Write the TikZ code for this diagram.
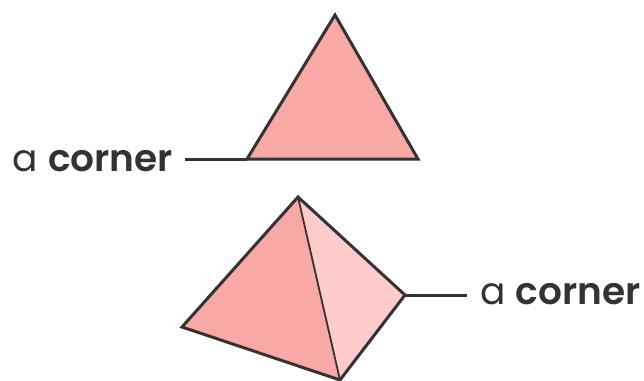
\documentclass[tikz,border=0pt]{standalone}
\usepackage{fontspec}
\setmainfont{Poppins}[BoldFont={Poppins SemiBold}]
\definecolor{ink}{HTML}{333333}
\definecolor{darkface}{HTML}{F9A9A5}
\definecolor{lightface}{HTML}{FDCCCA}
\tikzset{
 face/.style={draw=ink,line width=3pt,line join=miter},
 lead/.style={draw=ink,line width=3pt},
 lab/.style={text=ink,font=\fontsize{37.5}{40}\selectfont,inner sep=0pt,anchor=base west}
}
\begin{document}
\begin{tikzpicture}[x=1pt,y=-1pt]
\useasboundingbox (0,0) rectangle (644,380);
\coordinate (t1) at (335,15);
\coordinate (t2) at (247,159);
\coordinate (t3) at (418,159);
\coordinate (p1) at (298,197);
\coordinate (p2) at (182,327);
\coordinate (p3) at (340,380);
\coordinate (p4) at (405,295);
\coordinate (e1) at (185,159);
\coordinate (e2) at (467,295);
\fill[darkface] (p1)--(p2)--(p3)--cycle;
\fill[lightface] (p1)--(p3)--(p4)--cycle;
\path[fill=darkface] (t1)--(t2)--(t3)--cycle;
\draw[face] (t1)--(t2)--(t3)--cycle;
\draw[face] (p1)--(p2)--(p3)--(p4)--cycle;
\draw[draw=ink,line width=1.8pt] (p1)--(p3);
\draw[lead] (e1)--(t2);
\draw[lead] (p4)--(e2);
\node[lab] (l1) at (12.5,171) {a \textbf{corner}};
\node[lab] (l2) at (480,304) {a \textbf{corner}};
\end{tikzpicture}
\end{document}
